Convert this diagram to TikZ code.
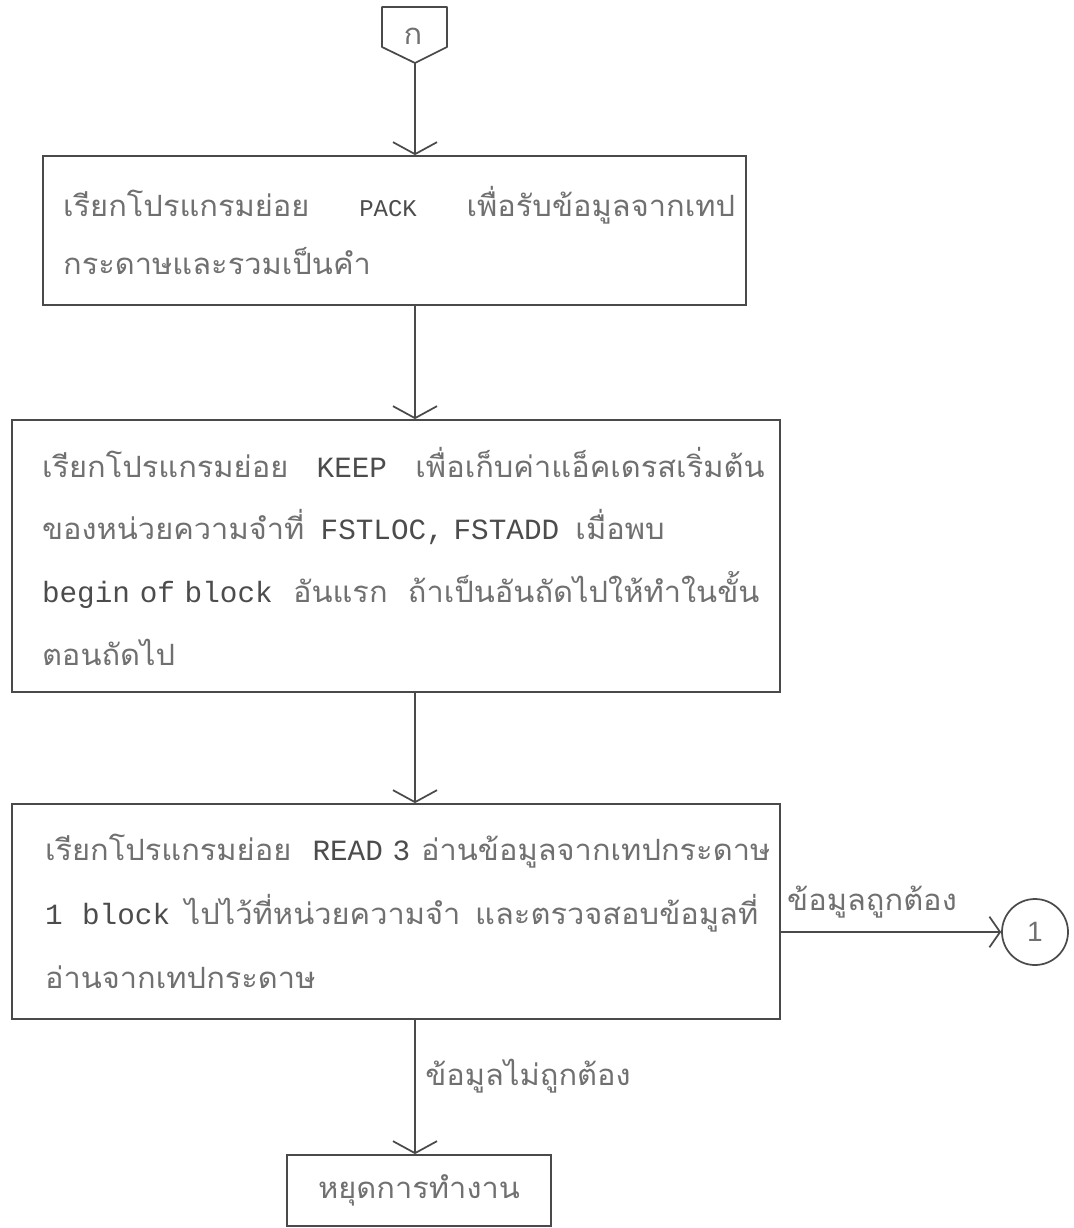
\documentclass[tikz,border=0pt]{standalone}
\usepackage{fontspec}
\setmainfont{Liberation Mono}
\newfontfamily\thai[Script=Thai,FakeStretch=1.05]{Loma}
\newfontfamily\tw{Liberation Mono}
\newfontfamily\digits{Liberation Sans}
\usetikzlibrary{arrows.meta}
\definecolor{linecol}{HTML}{4A4A4A}
\definecolor{textcol}{HTML}{707070}
% Latin words typed in a monospaced face
\newcommand{\lat}[1]{{\tw\color{black!70}#1}}
% one typed line spread to a given width (in pt)
\newcommand{\tline}[2]{\leavevmode\hbox to #1pt{#2}}
\newcommand{\gap}{\hskip 0.5em plus 1fil\relax}
\tikzset{
  flowbox/.style={draw=linecol, line width=1.3pt, rectangle, align=left,
    text=textcol, inner ysep=0pt},
  flowline/.style={draw=linecol, line width=1.3pt,
    -{Straight Barb[length=9pt,width=33pt]}},
  sideline/.style={draw=linecol, line width=1.3pt,
    -{Straight Barb[length=8pt,width=23pt]}},
  thaitext/.style={text=textcol, font=\thai\fontsize{22}{26}\selectfont},
}
\begin{document}
\begin{tikzpicture}[x=0.75pt,y=-0.75pt]
\useasboundingbox (0,0) rectangle (1074,1228);

% off-page connector at the top
\draw[linecol, line width=1.3pt, line join=round]
  (382,7) -- (447,7) -- (447,47) -- (415,63) -- (382,47) -- cycle;
\coordinate (ktip) at (415,63);
\node[thaitext] (klabel) at (413,36) {ก};

% process boxes
\node[flowbox, minimum width=527.25pt, minimum height=111.75pt,
  text width=497pt, inner xsep=15pt,
  font=\thai\fontsize{22}{43}\selectfont] (pack) at (394.5,230.5)
  {\tline{504}{เรียกโปรแกรมย่อย\gap\lat{\fontsize{18}{43}\selectfont PACK}\gap เพื่อรับข้อมูลจากเทป}\\
   กระดาษและรวมเป็นคำ};

\node[flowbox, minimum width=576pt, minimum height=204pt,
  text width=531pt, inner xsep=22.5pt,
  font=\thai\fontsize{22}{47}\selectfont] (keep) at (396,556)
  {\tline{542}{เรียกโปรแกรมย่อย\gap\lat{KEEP}\gap เพื่อเก็บค่าแอ็คเดรสเริ่มต้น}\\
   \tline{467}{ของหน่วยความจำที่\gap\lat{FSTLOC, FSTADD}\gap เมื่อพบ}\\
   \tline{538}{\lat{begin of block}\gap อันแรก\gap ถ้าเป็นอันถัดไปให้ทำในขั้น}\\
   ตอนถัดไป};

\node[flowbox, minimum width=576pt, minimum height=161.25pt,
  text width=526.5pt, inner xsep=24.75pt,
  font=\thai\fontsize{22}{48}\selectfont] (read) at (396,911.5)
  {\tline{544}{เรียกโปรแกรมย่อย\gap\lat{READ 3}\hskip 0.3em plus 0.3fil\relax อ่านข้อมูลจากเทปกระดาษ}\\
   \tline{527}{\lat{1\ \ block}\gap ไปไว้ที่หน่วยความจำ\gap และตรวจสอบข้อมูลที่}\\
   อ่านจากเทปกระดาษ};

\node[flowbox, align=center, minimum width=198pt, minimum height=53.25pt,
  font=\thai\fontsize{22}{26}\selectfont] (stop) at (419,1190.5)
  {หยุดการทำงาน};

% connector circle on the right
\node[draw=linecol, line width=1.3pt, circle, minimum size=49.5pt, inner sep=0pt,
  text=textcol, font=\digits\fontsize{21}{24}\selectfont] (one) at (1035,932) {1};

% flow lines
\draw[flowline] (ktip) -- (ktip |- pack.north);
\draw[flowline] (pack.south -| ktip) -- (keep.north -| ktip);
\draw[flowline] (keep.south -| ktip) -- (read.north -| ktip);
\draw[flowline] (read.south -| ktip) -- (stop.north -| ktip);
\draw[sideline] (read.east |- one.west) -- (one.west);

% branch labels
\node[thaitext] (oklabel) at (872,902) {ข้อมูลถูกต้อง};
\node[thaitext] (badlabel) at (528,1076) {ข้อมูลไม่ถูกต้อง};
\end{tikzpicture}
\end{document}
